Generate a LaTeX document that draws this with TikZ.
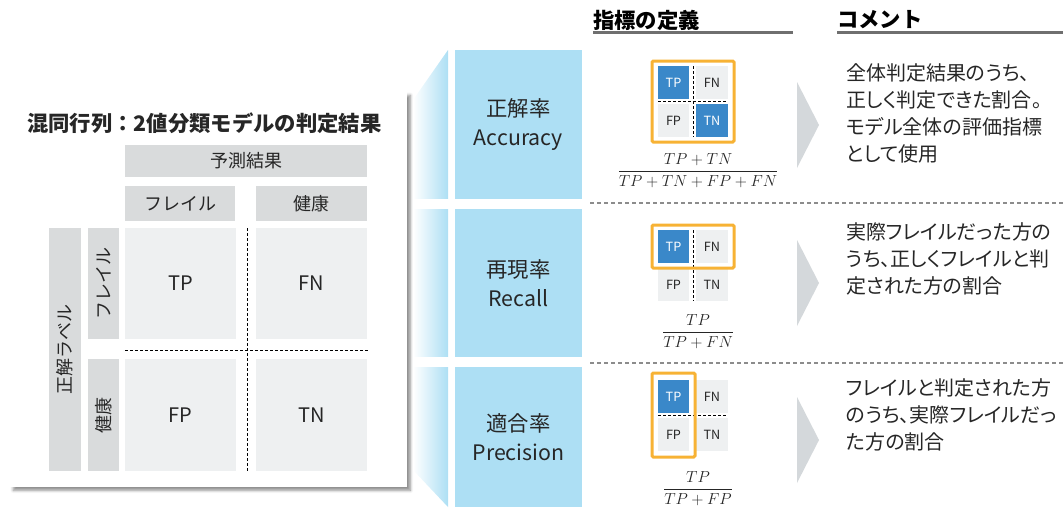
\documentclass[tikz,border=0pt]{standalone}
\usepackage{amsmath}
\usepackage[no-math]{fontspec}
\setmainfont{Noto Sans CJK JP}
\newfontfamily\jpp{Noto Sans CJK JP}[RawFeature=+palt]
\usetikzlibrary{shadows.blur}
\definecolor{txt}{HTML}{262626}
\definecolor{hdr}{HTML}{D9DBDC}
\definecolor{cellc}{HTML}{EEF0F1}
\definecolor{lblue}{HTML}{ADDFF4}
\definecolor{dblue}{HTML}{3A88C9}
\definecolor{orng}{HTML}{F7B234}
\definecolor{chev}{HTML}{D4D8DB}
\definecolor{uline}{HTML}{6F6F6F}
\definecolor{sep}{HTML}{8C8C8C}
\newcommand\mybox[7]{%
  \pgfmathsetmacro\bw{((#4)-(#2))*0.75}\pgfmathsetmacro\bh{((#5)-(#3))*0.75}%
  \node[#6, minimum width=\bw pt, minimum height=\bh pt, inner sep=0pt] (#1) at ({((#2)+(#4))/2},{((#3)+(#5))/2}) {#7};}
\newcommand\myvbox[7]{%
  \pgfmathsetmacro\bw{((#5)-(#3))*0.75}\pgfmathsetmacro\bh{((#4)-(#2))*0.75}%
  \node[#6, rotate=90, minimum width=\bw pt, minimum height=\bh pt, inner sep=0pt] (#1) at ({((#2)+(#4))/2},{((#3)+(#5))/2}) {#7};}
\tikzset{
  hdrbox/.style={fill=hdr, text=txt, font=\fontsize{13.5}{15}\selectfont},
  cellbox/.style={fill=cellc, text=txt, font=\fontsize{15}{17}\selectfont},
  bluebox/.style={fill=lblue, text=txt, align=center, font=\fontsize{16}{21.75}\selectfont},
  mcell/.style={fill=cellc, text=txt, font=\fontsize{9.5}{11}\selectfont},
  mblue/.style={fill=dblue, text=white, font=\fontsize{9.5}{11}\selectfont},
  obox/.style={draw=orng, line width=2.25pt, rounded corners=1pt},
  mdash/.style={draw=black, line width=0.6pt, dash pattern=on 2.25pt off 1.5pt},
  sepline/.style={draw=sep, line width=0.8pt, dash pattern=on 3pt off 2.25pt},
  chevron/.style={fill=chev},
  comment/.style={text=txt, align=left, anchor=north west, inner sep=0pt, font=\jpp\fontsize{15}{20.25}\selectfont},
  heading/.style={text=black, anchor=west, inner sep=0pt, font=\fontsize{16}{18}\selectfont\bfseries},
  headline/.style={draw=uline, line width=2.25pt},
  formula/.style={text=txt, inner sep=0pt, font=\fontsize{13}{15}\selectfont},
}
\newcommand\smallmat[6]{% prefix, y0, TP style, FN style, FP style, TN style
  \mybox{#1tp}{658}{#2}{689}{#2+33}{#3}{TP}
  \mybox{#1fn}{696}{#2}{728}{#2+33}{#4}{FN}
  \mybox{#1fp}{658}{#2+38}{689}{#2+71}{#5}{FP}
  \mybox{#1tn}{696}{#2+38}{728}{#2+71}{#6}{TN}}
\begin{document}
\begin{tikzpicture}[x=0.75pt,y=-0.75pt]
\useasboundingbox (0,0) rectangle (1063,515);
% ---- left panel ----
\mybox{panel}{10}{92}{407}{487}{fill=white, blur shadow={shadow xshift=2.5pt, shadow yshift=-2.5pt, shadow blur steps=6, shadow opacity=45}}{}
\node[text=txt, anchor=west, inner sep=0pt, font=\fontsize{16}{18}\selectfont\bfseries] (title) at (27,123) {混同行列：2値分類モデルの判定結果};
\mybox{pred}{125}{145}{367}{177}{hdrbox}{予測結果}
\mybox{colF}{125}{186}{235}{221}{hdrbox}{フレイル}
\mybox{colH}{256}{186}{367}{221}{hdrbox}{健康}
\myvbox{lab}{49}{228}{81}{471}{hdrbox}{正解ラベル}
\myvbox{rowF}{88}{228}{119}{339}{hdrbox}{フレイル}
\myvbox{rowH}{88}{359}{119}{471}{hdrbox}{健康}
\mybox{cTP}{125}{228}{236}{339}{cellbox}{TP}
\mybox{cFN}{256}{228}{367}{339}{cellbox}{FN}
\mybox{cFP}{125}{359}{236}{471}{cellbox}{FP}
\mybox{cTN}{256}{359}{367}{471}{cellbox}{TN}
\draw[mdash] (247,228) -- (247,471);
\draw[mdash] (125,350) -- (370,350);
% ---- fan ----
\shade[left color=white, right color=lblue] (413,100) -- (448,50) -- (448,507) -- (413,470) -- cycle;
\fill[white] (413,199) rectangle (455,209);
\fill[white] (413,357) rectangle (455,367);
% ---- metric boxes ----
\mybox{acc}{455}{50}{582}{199}{bluebox}{正解率\\Accuracy}
\mybox{rec}{455}{209}{582}{357}{bluebox}{再現率\\Recall}
\mybox{pre}{455}{367}{582}{507}{bluebox}{適合率\\Precision}
% ---- headings ----
\node[heading] (h1) at (593,20) {指標の定義};
\draw[headline] (593,32) -- (793,32);
\node[heading] (h2) at (837,20) {コメント};
\draw[headline] (837,32) -- (1063,32);
% ---- separators ----
\draw[sepline] (590,203) -- (1063,203);
\draw[sepline] (590,363) -- (1063,363);
% ---- accuracy matrix ----
\smallmat{a}{66}{mblue}{mcell}{mcell}{mblue}
\draw[mdash] (693,66) -- (693,137);
\draw[mdash] (658,101.5) -- (728,101.5);
\draw[obox] (652,61) rectangle (734,142);
\node[formula] (fa) at (698,171) {$\dfrac{TP+TN}{TP+TN+FP+FN}$};
% ---- recall matrix ----
\smallmat{r}{230}{mblue}{mcell}{mcell}{mcell}
\draw[mdash] (693,230) -- (693,301);
\draw[obox] (652,225) rectangle (734,268);
\node[formula] (fr) at (698,332) {$\dfrac{TP}{TP+FN}$};
% ---- precision matrix ----
\smallmat{p}{380}{mblue}{mcell}{mcell}{mcell}
\draw[mdash] (658,415.5) -- (728,415.5);
\draw[obox] (652,373) rectangle (695,457);
\node[formula] (fp) at (698,489) {$\dfrac{TP}{TP+FP}$};
% ---- chevrons ----
\fill[chevron] (797,82) -- (819,125) -- (797,168) -- cycle;
\fill[chevron] (797,240) -- (819,283) -- (797,326) -- cycle;
\fill[chevron] (797,397) -- (819,440) -- (797,483) -- cycle;
% ---- comments ----
\node[comment] (k1) at (846,63) {全体判定結果のうち、\\正しく判定できた割合。\\モデル全体の評価指標\\として使用};
\node[comment] (k2) at (846,222) {実際フレイルだった方の\\うち、正しくフレイルと判\\定された方の割合};
\node[comment] (k3) at (846,378) {フレイルと判定された方\\のうち、実際フレイルだっ\\た方の割合};
\end{tikzpicture}
\end{document}
